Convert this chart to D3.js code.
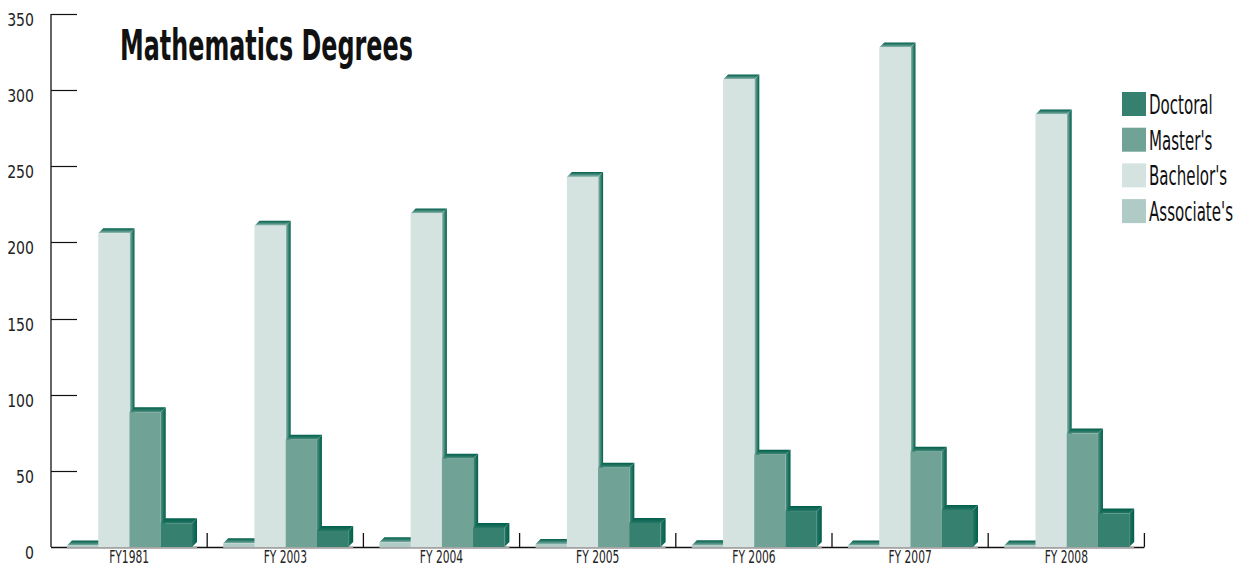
<!DOCTYPE html>
<html><head><meta charset="utf-8">
<script src="https://cdnjs.cloudflare.com/ajax/libs/d3/7.8.5/d3.min.js"></script>
<style>
html,body{margin:0;padding:0;background:#fff;}
svg{display:block;}
text{font-family:"DejaVu Sans Condensed","Liberation Sans Narrow","Liberation Sans",sans-serif;}
</style></head>
<body>
<svg id="chart" width="1239" height="567"></svg>
<script>
const categories = ["FY1981","FY 2003","FY 2004","FY 2005","FY 2006","FY 2007","FY 2008"];
const seriesNames = ["Associate's","Bachelor's","Master's","Doctoral"];
const associates = [1, 2.4, 3.1, 2, 1.2, 1, 1];
const bachelors = [206, 211, 219, 243, 307, 328, 284];
const masters = [88.5, 70.5, 58, 52, 60.5, 62.5, 74.5];
const doctoral = [15.6, 10.5, 12.5, 15.8, 23.6, 24.3, 22];
const yTicks = [0,50,100,150,200,250,300,350];
const legendOrder = ["Doctoral","Master's","Bachelor's","Associate's"];
const colors = {"Doctoral":"#36806f","Master's":"#70a396","Bachelor's":"#d4e3e0","Associate's":"#b0cbc5"};
const title = "Mathematics Degrees";

(function(){
const seriesValues = {"Associate's":associates,"Bachelor's":bachelors,"Master's":masters,"Doctoral":doctoral};
const dark = "#005f4b";
const depth = 5;

const svg = d3.select("#chart");
const pLeft = 51, pRight = 1144.4, pTop = 14, pBottom = 547;

const y = d3.scaleLinear().domain([0,350]).range([pBottom, pTop]);
const x0 = d3.scaleBand().domain(categories).range([pLeft, pRight]);
const x1 = d3.scaleBand().domain(seriesNames).range([16, 141]);

const defs = svg.append("defs");
seriesNames.forEach((s,i)=>{
  const c0 = d3.interpolateRgb(colors[s], dark)(0.25);
  const c1 = d3.interpolateRgb(colors[s], dark)(0.65);
  const gs = defs.append("linearGradient").attr("id","side"+i).attr("x1",0).attr("y1",0).attr("x2",1).attr("y2",0);
  gs.append("stop").attr("offset","0%").attr("stop-color",c0);
  gs.append("stop").attr("offset","45%").attr("stop-color",c1);
  gs.append("stop").attr("offset","100%").attr("stop-color",dark);
  const gt = defs.append("linearGradient").attr("id","top"+i).attr("x1",0).attr("y1",1).attr("x2",0).attr("y2",0);
  gt.append("stop").attr("offset","0%").attr("stop-color",c0);
  gt.append("stop").attr("offset","45%").attr("stop-color",c1);
  gt.append("stop").attr("offset","100%").attr("stop-color",dark);
});

svg.append("line").attr("x1",pLeft).attr("x2",pLeft).attr("y1",pTop).attr("y2",pBottom).attr("stroke","#111").attr("stroke-width",1.3);
svg.append("line").attr("x1",pLeft).attr("x2",pRight).attr("y1",pBottom+0.5).attr("y2",pBottom+0.5).attr("stroke","#111").attr("stroke-width",1.3);

svg.selectAll(".ytick").data(yTicks.filter(d=>d>0)).enter().append("line")
  .attr("x1",pLeft).attr("x2",pLeft+26).attr("y1",d=>Math.round(y(d))+0.5).attr("y2",d=>Math.round(y(d))+0.5)
  .attr("stroke","#111").attr("stroke-width",1.2);
svg.selectAll(".ylab").data(yTicks).enter().append("g")
  .attr("transform",d=>`translate(34,${y(d)+12}) scale(0.92,1)`)
  .append("text").attr("text-anchor","end")
  .attr("font-size",17).attr("fill","#222").text(d=>d);

svg.selectAll(".xtick").data(categories).enter().append("line")
  .attr("x1",d=>x0(d)+x0.bandwidth()).attr("x2",d=>x0(d)+x0.bandwidth())
  .attr("y1",pBottom-14).attr("y2",pBottom).attr("stroke","#111").attr("stroke-width",1.3);

const groups = svg.selectAll(".grp").data(categories).enter().append("g")
  .attr("transform",d=>`translate(${x0(d)},0)`);

groups.append("line")
  .attr("x1",x1(seriesNames[0])).attr("x2",x1(seriesNames[3])+x1.bandwidth()+depth)
  .attr("y1",pBottom+0.5).attr("y2",pBottom+0.5).attr("stroke","#a5a5a5").attr("stroke-width",2);

seriesNames.forEach((s,si)=>{
  groups.each(function(cat,ci){
    const g = d3.select(this);
    const v = seriesValues[s][ci];
    const xa = x1(s), xb = x1(s)+x1.bandwidth();
    const yt = y(v), yb = pBottom;
    g.append("path").attr("d",`M${xb},${yt}L${xb+depth},${yt-depth}L${xb+depth},${yb-depth}L${xb},${yb}Z`)
      .attr("fill",`url(#side${si})`);
    g.append("path").attr("d",`M${xa},${yt}L${xa+depth},${yt-depth}L${xb+depth},${yt-depth}L${xb},${yt}Z`)
      .attr("fill",`url(#top${si})`);
    g.append("rect").attr("x",xa).attr("y",yt).attr("width",x1.bandwidth()).attr("height",Math.max(0,yb-yt))
      .attr("fill",colors[s]);
  });
});

svg.selectAll(".xlab").data(categories).enter().append("g")
  .attr("transform",d=>`translate(${x0(d)+x0.bandwidth()/2},562.5) scale(0.68,1)`)
  .append("text").attr("text-anchor","middle")
  .attr("font-size",17.5).attr("fill","#222").text(d=>d);

const tg = svg.append("g").attr("transform","translate(120,60)");
const tt = tg.append("text").attr("font-size",42).attr("font-weight","bold").attr("fill","#111").text(title);
{ const w = tt.node().getComputedTextLength(); tg.attr("transform",`translate(120,60) scale(${293/w},1)`); }

const lg = svg.selectAll(".leg").data(legendOrder).enter().append("g")
  .attr("transform",(d,i)=>`translate(1122,${92+i*35.7})`);
lg.append("rect").attr("width",24).attr("height",24).attr("fill",d=>colors[d]);
lg.append("g").attr("transform","translate(27,22) scale(0.62,1)")
  .append("text").attr("font-size",27).attr("fill","#111").text(d=>d);
})();
</script>
</body></html>
